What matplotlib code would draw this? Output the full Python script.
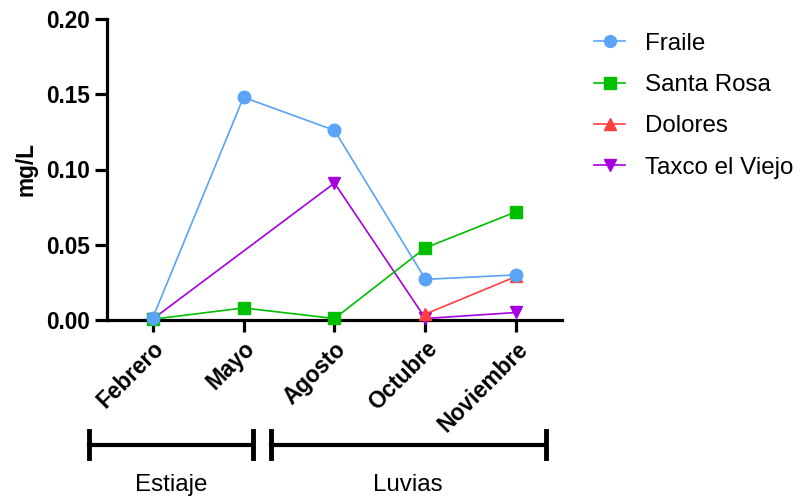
import numpy as np
import matplotlib.pyplot as plt
from matplotlib.transforms import blended_transform_factory

plt.rcParams['font.family'] = ['Liberation Sans', 'DejaVu Sans']

months = ['Febrero', 'Mayo', 'Agosto', 'Octubre', 'Noviembre']
fraile = [0.001, 0.148, 0.126, 0.027, 0.030]
santa_rosa = [0.0005, 0.008, 0.001, 0.048, 0.072]
dolores = [np.nan, np.nan, np.nan, 0.004, 0.029]
taxco = [0.0005, np.nan, 0.091, 0.001, 0.005]

seasons = ['Estiaje', 'Luvias']
season_spans = [(-0.7, 1.1), (1.3, 4.32)]

series = [
    ('Fraile', fraile, '#5AA3F7', 'o'),
    ('Santa Rosa', santa_rosa, '#00BF00', 's'),
    ('Dolores', dolores, '#FF3F3F', '^'),
    ('Taxco el Viejo', taxco, '#A600E0', 'v'),
]

fs = 16.3      # bold tick / axis labels
fs_reg = 17.4  # legend and season labels

fig = plt.figure(figsize=(8.01, 5.0), dpi=100)
ax = fig.add_axes([0.1336, 0.36, 0.568, 0.602])

x = np.arange(len(months))
n = len(series)
for i, (name, vals, col, mk) in enumerate(series):
    v = np.array(vals, dtype=float)
    ok = ~np.isnan(v)
    ax.plot(x[ok], v[ok], color=col, marker=mk, markersize=9, lw=1.2,
            label=name, zorder=10 + (n - i), clip_on=False)

ax.set_xlim(-0.5, 4.5)
ax.set_ylim(0, 0.20)
ax.set_yticks([0, 0.05, 0.10, 0.15, 0.20])
ax.set_yticklabels(['0.00', '0.05', '0.10', '0.15', '0.20'])
ax.set_xticks(x)
ax.set_xticklabels(months, rotation=45, ha='right', rotation_mode='anchor')

for s in ['top', 'right']:
    ax.spines[s].set_visible(False)
for s in ['left', 'bottom']:
    ax.spines[s].set_linewidth(2.3)
ax.tick_params(width=2.3, length=8.5, labelsize=fs, pad=4)
for lab in ax.get_xticklabels() + ax.get_yticklabels():
    lab.set_fontweight('bold')

ax.set_ylabel('mg/L', fontsize=fs, fontweight='bold', labelpad=6)

leg = ax.legend(loc='upper left', bbox_to_anchor=(0.715, 0.978),
                bbox_transform=fig.transFigure, frameon=False, fontsize=fs_reg,
                handlelength=1.25, labelspacing=0.8, handletextpad=0.85,
                markerscale=0.95)

# season brackets under the month labels
tr = blended_transform_factory(ax.transData, ax.transAxes)
for name, (x0, x1) in zip(seasons, season_spans):
    ax.plot([x0, x1], [-0.415, -0.415], color='black', lw=3, transform=tr, clip_on=False)
    for xe in (x0, x1):
        ax.plot([xe, xe], [-0.37, -0.46], color='black', lw=3.5, transform=tr, clip_on=False)
    ax.text((x0 + x1) / 2, -0.548, name, transform=tr, ha='center', va='center', fontsize=fs_reg)

fig.savefig('out.png', dpi=100)
